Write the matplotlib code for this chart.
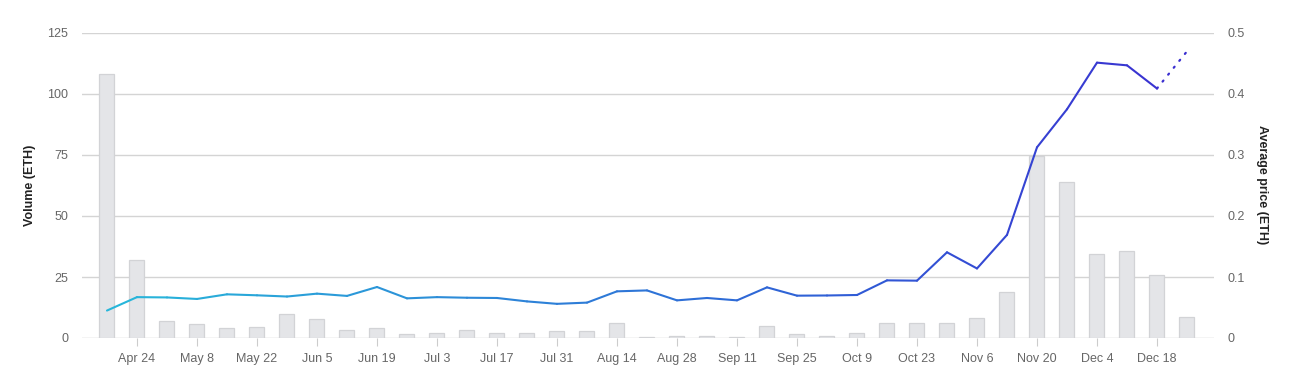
import numpy as np
import matplotlib
matplotlib.use("Agg")
import matplotlib.pyplot as plt
from matplotlib.collections import LineCollection
from matplotlib.colors import LinearSegmentedColormap

weeks = ["Apr 17", "Apr 24", "May 1", "May 8", "May 15", "May 22", "May 29",
         "Jun 5", "Jun 12", "Jun 19", "Jun 26", "Jul 3", "Jul 10", "Jul 17",
         "Jul 24", "Jul 31", "Aug 7", "Aug 14", "Aug 21", "Aug 28", "Sep 4",
         "Sep 11", "Sep 18", "Sep 25", "Oct 2", "Oct 9", "Oct 16", "Oct 23",
         "Oct 30", "Nov 6", "Nov 13", "Nov 20", "Nov 27", "Dec 4", "Dec 11",
         "Dec 18", "Dec 25"]
volume = [108, 32, 7, 5.7, 4.3, 4.5, 9.8, 7.6, 3.3, 3.9, 1.8, 2.0, 3.2, 2.0,
          2.0, 2.8, 2.8, 6.0, 0.5, 1.0, 1.0, 0.5, 5.0, 1.8, 1.0, 2.0, 6.0,
          6.0, 6.0, 8.3, 19.0, 74.5, 63.8, 34.3, 35.8, 25.7, 8.5]
price = [0.045, 0.067, 0.0665, 0.064, 0.0716, 0.070, 0.068, 0.0727, 0.069,
         0.0836, 0.065, 0.067, 0.066, 0.0656, 0.060, 0.056, 0.058, 0.0765,
         0.078, 0.0617, 0.0656, 0.0617, 0.083, 0.0694, 0.0697, 0.0705,
         0.0945, 0.094, 0.1405, 0.114, 0.169, 0.3126, 0.375, 0.4514, 0.447,
         0.409, 0.470]
tick_labels = weeks[1::2]
vol_ticks = [0, 25, 50, 75, 100, 125]
price_ticks = [0, 0.1, 0.2, 0.3, 0.4, 0.5]

plt.rcParams["font.family"] = ["Liberation Sans", "DejaVu Sans"]

W, H = 1292, 374
fig = plt.figure(figsize=(W / 100, H / 100), dpi=100)
x0, x1 = 82, 1214
ytop, ybot = 33, 338
ax = fig.add_axes([x0 / W, (H - ybot) / H, (x1 - x0) / W, (ybot - ytop) / H])
ax2 = ax.twinx()

x = np.arange(len(weeks))
ax.bar(x, volume, width=0.5, color="#e4e5e8", edgecolor="#d2d3d6",
       linewidth=0.9, zorder=2)
ax.set_xlim(-0.833, len(weeks) - 1 + 0.9)
ax.set_ylim(0, 125)
ax.set_yticks(vol_ticks)
ax.set_yticklabels([str(v) for v in vol_ticks])
for v in vol_ticks:
    ax.axhline(v, color="#d4d4d4" if v else "#c8c8c8", lw=1, zorder=1)

ax.set_xticks(x[1::2])
ax.set_xticklabels(tick_labels)
ax.tick_params(axis="x", length=6, color="#cccccc", labelsize=9,
               labelcolor="#666666", pad=5)
ax.tick_params(axis="y", length=0, labelsize=9, labelcolor="#666666", pad=10)
for s in ax.spines.values():
    s.set_visible(False)
for s in ax2.spines.values():
    s.set_visible(False)

ax2.set_ylim(0, 0.5)
ax2.set_yticks(price_ticks)
ax2.set_yticklabels(["0", "0.1", "0.2", "0.3", "0.4", "0.5"])
ax2.tick_params(axis="y", length=0, labelsize=9, labelcolor="#666666", pad=10)

cmap = LinearSegmentedColormap.from_list(
    "g", ["#27b8da", "#2d8ad8", "#2f5fd6", "#3a2ed0"])
n_solid = len(weeks) - 1
pts = np.column_stack([x[:n_solid], price[:n_solid]])
segs = np.stack([pts[:-1], pts[1:]], axis=1)
mids = (x[:n_solid - 1] + 0.5) / (len(weeks) - 1)
lc = LineCollection(segs, colors=cmap(mids), linewidths=1.5,
                    capstyle="round", joinstyle="round", zorder=3)
ax2.add_collection(lc)
ax2.plot(x[n_solid - 1:], price[n_solid - 1:], color="#3a2ed0", lw=1.6,
         linestyle=(0, (0.6, 3.4)), dash_capstyle="round", zorder=3)

fig.text(30 / W, (H - 185) / H, "Volume (ETH)", rotation=90, ha="center",
         va="center", fontsize=9, fontweight="bold", color="#222222")
fig.text(1262 / W, (H - 185) / H, "Average price (ETH)", rotation=-90,
         ha="center", va="center", fontsize=9, fontweight="bold",
         color="#222222")

fig.savefig("out.png", dpi=100, facecolor="white")
